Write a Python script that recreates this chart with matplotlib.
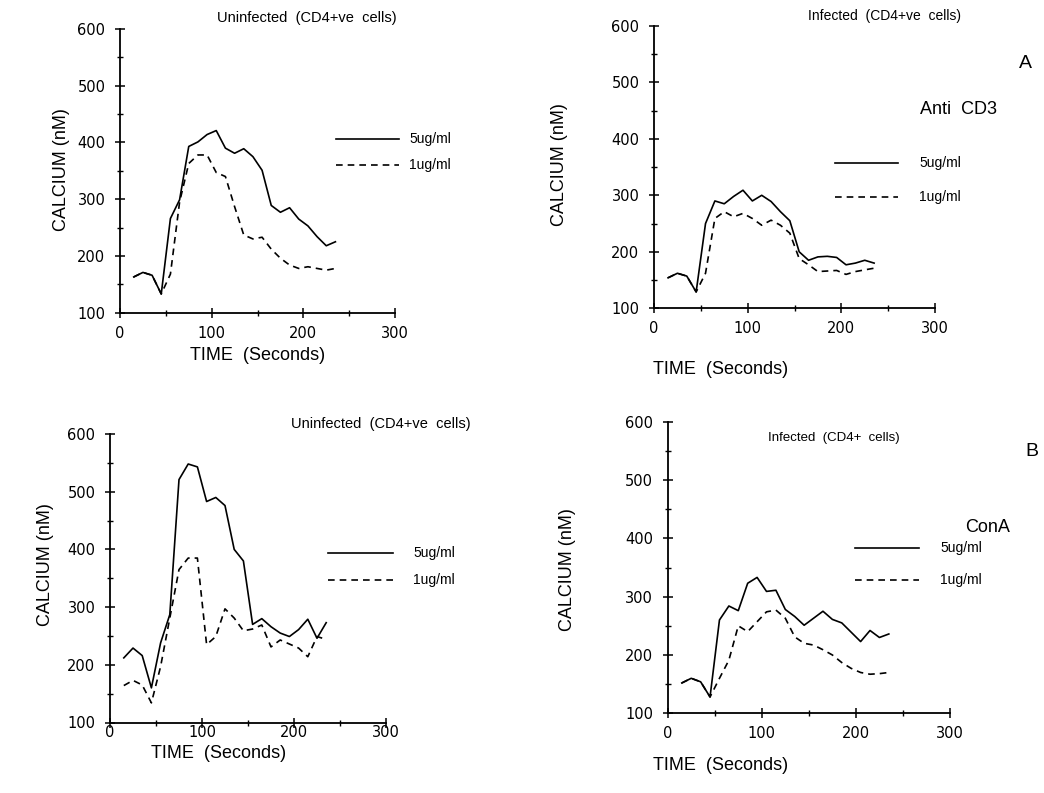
import matplotlib
matplotlib.use("Agg")
import matplotlib.pyplot as plt
from matplotlib.ticker import MultipleLocator

plt.rcParams['font.family'] = ['Liberation Sans', 'DejaVu Sans']

# Datos (tiempo en segundos, calcio en nM)
time = [15, 25, 35, 45, 55, 65, 75, 85, 95, 105, 115, 125,
        135, 145, 155, 165, 175, 185, 195, 205, 215, 225, 235]

# Anti CD3, no infectadas
cd3_unf_5 = [163, 171, 166, 133, 266, 299, 393, 401, 414, 421, 390, 381,
             389, 375, 351, 289, 277, 285, 265, 253, 234, 218, 225]
cd3_unf_1 = [163, 171, 166, 133, 168, 295, 363, 378, 378, 347, 340, 287,
             237, 230, 233, 212, 196, 184, 178, 181, 178, 175, 178]

# Anti CD3, infectadas
cd3_inf_5 = [154, 162, 157, 129, 250, 290, 285, 298, 309, 290, 300, 289,
             271, 255, 200, 185, 191, 192, 190, 177, 180, 185, 180]
cd3_inf_1 = [154, 162, 157, 129, 162, 259, 271, 262, 268, 259, 247, 256,
             247, 233, 188, 177, 165, 166, 167, 160, 165, 168, 171]

# ConA, no infectadas
cona_unf_5 = [212, 229, 216, 160, 238, 287, 521, 548, 543, 483, 490, 476,
              400, 380, 270, 280, 266, 255, 249, 261, 279, 246, 273]
cona_unf_1 = [164, 173, 165, 134, 197, 281, 365, 385, 385, 235, 249, 297,
              281, 259, 262, 269, 231, 243, 236, 229, 214, 249, 244]

# ConA, infectadas
cona_inf_5 = [152, 160, 154, 128, 260, 284, 276, 323, 333, 309, 311, 278,
              266, 251, 263, 275, 261, 255, 239, 223, 242, 230, 236]
cona_inf_1 = [152, 160, 154, 128, 160, 191, 250, 240, 257, 274, 277, 263,
              231, 220, 217, 209, 200, 187, 177, 170, 167, 168, 170]

legend_labels = ["5ug/ml", "1ug/ml"]

W, H = 1044, 793
fig = plt.figure(figsize=(W / 100, H / 100), dpi=100)


def px(x, y):
    return x / W, 1 - y / H


def panel(x0, x300, y600, y100, t5, t1, xpad=6):
    ax = fig.add_axes([x0 / W, 1 - y100 / H, (x300 - x0) / W, (y100 - y600) / H])
    ax.plot(time, t5, color="black", lw=1.2)
    ax.plot(time, t1, color="black", lw=1.2, dashes=(4, 3))
    ax.set_xlim(0, 300)
    ax.set_ylim(100, 600)
    ax.xaxis.set_major_locator(MultipleLocator(100))
    ax.xaxis.set_minor_locator(MultipleLocator(50))
    ax.yaxis.set_major_locator(MultipleLocator(100))
    ax.yaxis.set_minor_locator(MultipleLocator(50))
    for s in ["top", "right"]:
        ax.spines[s].set_visible(False)
    ax.spines["left"].set_linewidth(1.3)
    ax.spines["bottom"].set_linewidth(1.3)
    ax.tick_params(which="major", direction="inout", length=7, width=1.1, labelsize=10.5)
    ax.tick_params(which="minor", direction="inout", length=5, width=1.0)
    ax.tick_params(axis="y", pad=7)
    ax.tick_params(axis="x", pad=xpad)
    for lab in ax.get_xticklabels() + ax.get_yticklabels():
        lab.set_family("DejaVu Sans")
    ax.patch.set_alpha(0)
    return ax


def leyenda(x1, x2, y1, y2, xt):
    a, b = px(x1, y1)
    c, _ = px(x2, y1)
    fig.add_artist(plt.Line2D([a, c], [b, b], color="black", lw=1.2))
    a, b = px(x1, y2)
    fig.add_artist(plt.Line2D([a, c], [b, b], color="black", lw=1.2, dashes=(4, 3)))
    fig.text(*px(xt, y1), legend_labels[0], fontsize=10, va="center")
    fig.text(*px(xt, y2), legend_labels[1], fontsize=10, va="center")


# Panel superior izquierdo
panel(120, 395, 29, 312.7, cd3_unf_5, cd3_unf_1)
fig.text(*px(307, 18), "Uninfected  (CD4+ve  cells)", fontsize=10.5, ha="center", va="center")
fig.text(*px(62, 170), "CALCIUM (nM)", fontsize=13, rotation=90, ha="center", va="center")
fig.text(*px(258, 355), "TIME  (Seconds)", fontsize=13, ha="center", va="center")
leyenda(336, 399, 139, 165, 409)

# Panel superior derecho
panel(654, 935, 25.8, 308.3, cd3_inf_5, cd3_inf_1)
fig.text(*px(885, 16), "Infected  (CD4+ve  cells)", fontsize=10, ha="center", va="center")
fig.text(*px(560, 165), "CALCIUM (nM)", fontsize=13, rotation=90, ha="center", va="center")
fig.text(*px(721, 369), "TIME  (Seconds)", fontsize=13, ha="center", va="center")
fig.text(*px(958, 110), "Anti  CD3", fontsize=13, ha="center", va="center")
fig.text(*px(1025, 63), "A", fontsize=14, ha="center", va="center")
leyenda(835, 898, 163, 197, 919)

# Panel inferior izquierdo
panel(110, 386, 434, 722.5, cona_unf_5, cona_unf_1, xpad=-2)
fig.text(*px(381, 424), "Uninfected  (CD4+ve  cells)", fontsize=10.5, ha="center", va="center")
fig.text(*px(45, 565), "CALCIUM (nM)", fontsize=13, rotation=90, ha="center", va="center")
fig.text(*px(219, 753), "TIME  (Seconds)", fontsize=13, ha="center", va="center")
leyenda(328, 393, 553, 580, 413)

# Panel inferior derecho
panel(667.7, 950, 421.7, 713.3, cona_inf_5, cona_inf_1)
fig.text(*px(834, 438), "Infected  (CD4+  cells)", fontsize=9.5, ha="center", va="center")
fig.text(*px(567, 570), "CALCIUM (nM)", fontsize=13, rotation=90, ha="center", va="center")
fig.text(*px(721, 766), "TIME  (Seconds)", fontsize=13, ha="center", va="center")
fig.text(*px(988, 527), "ConA", fontsize=13, ha="center", va="center")
fig.text(*px(1032, 451), "B", fontsize=14, ha="center", va="center")
leyenda(855, 919, 548, 580, 940)

fig.savefig("out.png", dpi=100)
